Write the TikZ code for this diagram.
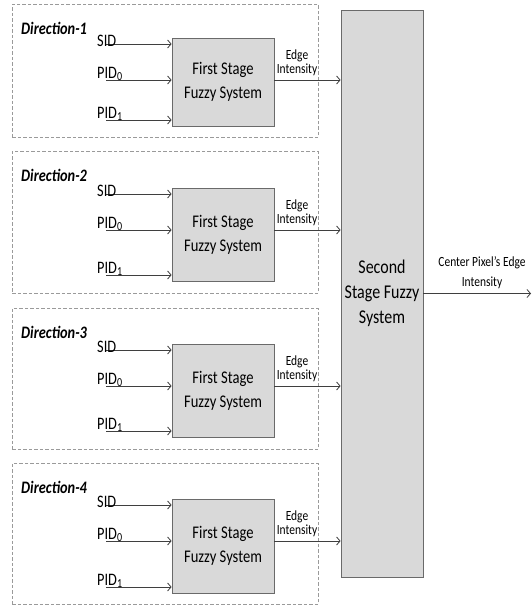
\documentclass[tikz,border=0pt]{standalone}
\usepackage{fontspec}
\setmainfont{Carlito}[FakeStretch=0.82]
\usetikzlibrary{arrows.meta}
\definecolor{boxfill}{HTML}{D9D9D9}
\definecolor{boxline}{HTML}{6A6A6A}
\definecolor{dashline}{HTML}{9A9A9A}
\definecolor{arr}{HTML}{3F3F3F}
\tikzset{
  fsbox/.style={draw=boxline, fill=boxfill, line width=0.8pt, inner sep=0pt, align=center,
    font=\fontsize{17.8}{24}\selectfont},
  ssbox/.style={draw=boxline, fill=boxfill, line width=0.8pt, inner sep=0pt, align=center,
    font=\fontsize{19.5}{25}\selectfont},
  group/.style={draw=dashline, dash pattern=on 3.5pt off 2pt, line width=0.6pt, inner sep=0pt},
  lbl/.style={font=\fontsize{17.5}{20}\selectfont, inner sep=0pt, anchor=base west},
  dirlbl/.style={font=\fontsize{17.5}{20}\selectfont\bfseries\itshape, inner sep=0pt, anchor=base west},
  small/.style={font=\fontsize{14}{14}\selectfont, align=center, inner sep=0pt},
  outlbl/.style={font=\fontsize{14}{20}\selectfont, align=center, inner sep=0pt},
  conn/.style={draw=arr, line width=0.8pt, -{Straight Barb[length=3.5pt,width=8pt]}},
}
\begin{document}
\begin{tikzpicture}[x=1pt,y=-1pt]
\useasboundingbox (0,0) rectangle (531,608);
% second stage
\node[ssbox, minimum width=82pt, minimum height=567pt] (ss) at (382,293.5) {Second\\Stage Fuzzy\\System};
\foreach \k/\T/\B/\Fa/\Fb in {1/4/137/38/126, 2/151/293/188/281, 3/308/449/344/437, 4/463/604/499/593} {
  \node[group, anchor=north west, minimum width=306pt, minimum height={(\B-\T)*1pt}] (grp\k) at (12,\T) {};
  \node[dirlbl] (dir\k) at (21,{\T+30}) {Direction-\k};
  \node[fsbox, minimum width=102pt, minimum height={(\Fb-\Fa)*1pt}] (fs\k) at (223,{(\Fa+\Fb)/2}) {First Stage\\Fuzzy System};
  \coordinate (sidin\k) at (106,{\Fa+6});
  \coordinate (pazin\k) at (106,{\Fa+42});
  \coordinate (paoin\k) at (106,{\Fb-6});
  \draw[conn] (sidin\k) -- (fs\k.west |- sidin\k);
  \draw[conn] (pazin\k) -- (fs\k.west |- pazin\k);
  \draw[conn] (paoin\k) -- (fs\k.west |- paoin\k);
  \node[lbl] (sidl\k) at (97,{\Fa+6+2.5}) {SID};
  \node[lbl] (pazl\k) at (97,{\Fa+42-2}) {PID\textsubscript{0}};
  \node[lbl] (paol\k) at (97,{\Fb-6-2}) {PID\textsubscript{1}};
  \draw[conn] (fs\k.east |- pazin\k) -- (ss.west |- pazin\k);
  \node[small, anchor=south] (ei\k) at (297,{\Fa+42-4}) {Edge\\Intensity};
}
\coordinate (outend) at (531,293.5);
\draw[conn] (ss.east) -- (outend);
\node[outlbl] (cpl) at (482,273) {Center Pixel's Edge\\Intensity};
\end{tikzpicture}
\end{document}
